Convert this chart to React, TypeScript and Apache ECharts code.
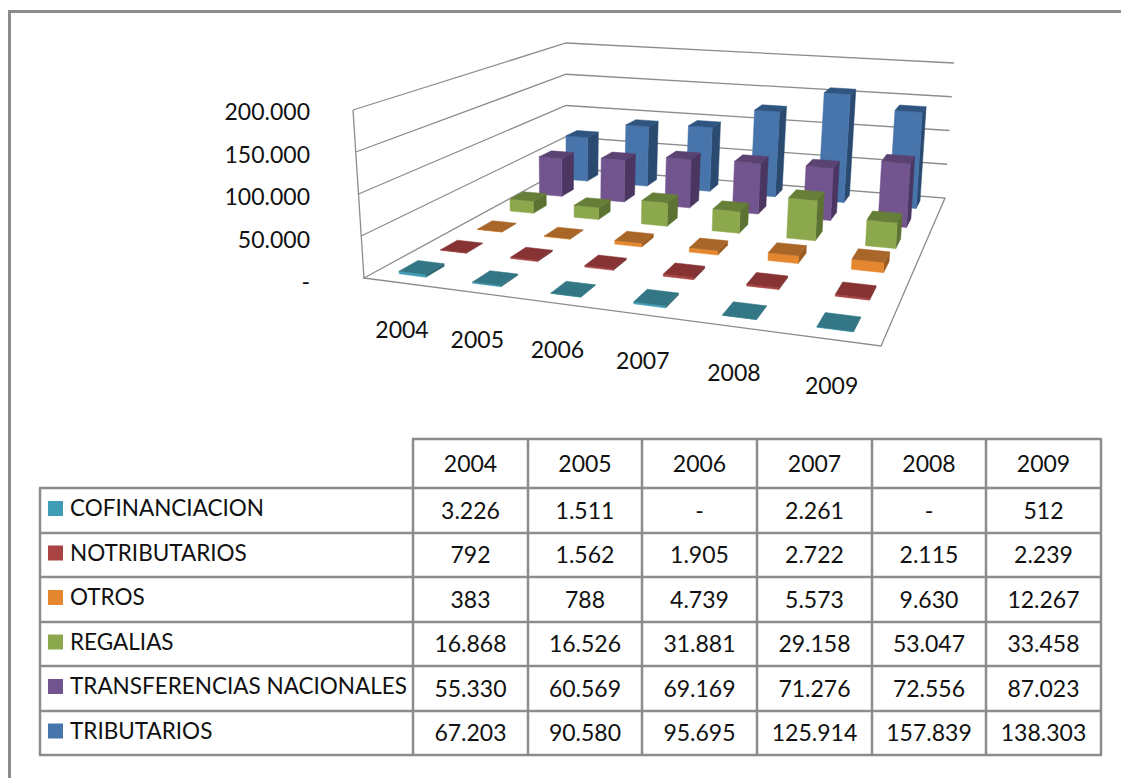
import React, { useEffect, useRef } from "react";
import * as echarts from "echarts";

const years = ["2004", "2005", "2006", "2007", "2008", "2009"];
const seriesNames = ["COFINANCIACION", "NOTRIBUTARIOS", "OTROS", "REGALIAS", "TRANSFERENCIAS NACIONALES", "TRIBUTARIOS"];
const cofinanciacion = [3226, 1511, 0, 2261, 0, 512];
const notributarios = [792, 1562, 1905, 2722, 2115, 2239];
const otros = [383, 788, 4739, 5573, 9630, 12267];
const regalias = [16868, 16526, 31881, 29158, 53047, 33458];
const transferencias = [55330, 60569, 69169, 71276, 72556, 87023];
const tributarios = [67203, 90580, 95695, 125914, 157839, 138303];
const allValues = [cofinanciacion, notributarios, otros, regalias, transferencias, tributarios];
const valueTicks = [0, 50000, 100000, 150000, 200000];

const frontColors = ["#3F9DB5", "#A94442", "#E5872F", "#8CA84C", "#72558F", "#4674AB"];
const topColors = ["#337685", "#873233", "#A86628", "#667F38", "#5A4272", "#2F5480"];
const sideColors = ["#2C6473", "#6E2A2A", "#9A5A20", "#5C7232", "#4A3660", "#2A4A70"];

const fmt = (v: number) => (v === 0 ? "-" : String(v).replace(/\B(?=(\d{3})+$)/g, "."));

type P = [number, number];
// Homography from the unit square: (0,0)->a, (1,0)->b, (1,1)->c, (0,1)->d
function quad(a: P, b: P, c: P, d: P) {
  const dx1 = b[0] - c[0], dx2 = d[0] - c[0], sx = a[0] - b[0] + c[0] - d[0];
  const dy1 = b[1] - c[1], dy2 = d[1] - c[1], sy = a[1] - b[1] + c[1] - d[1];
  const den = dx1 * dy2 - dx2 * dy1;
  const g = (sx * dy2 - dx2 * sy) / den;
  const h = (dx1 * sy - sx * dy1) / den;
  const A = b[0] - a[0] + g * b[0], B = d[0] - a[0] + h * d[0];
  const D = b[1] - a[1] + g * b[1], E = d[1] - a[1] + h * d[1];
  return (u: number, v: number): P => {
    const w = g * u + h * v + 1;
    return [(A * u + B * v + a[0]) / w, (D * u + E * v + a[1]) / w];
  };
}
const floorMap = quad([364, 278], [881, 346], [945, 198], [566, 168]);
const topMap = quad([353, 110], [890, 152], [954, 63], [566, 43]);
const project = (u: number, v: number, h: number): P => {
  const f = floorMap(u, v), t = topMap(u, v);
  return [f[0] + (t[0] - f[0]) * h, f[1] + (t[1] - f[1]) * h];
};

const BAR_U = 0.37, BAR_V = 0.44;
const GREY = "#8C8C8C";
const FONT = "Lato";
const FONT_SIZE = 23;
const NAME_SIZE = 22.5;
const TEXT = "#111";

const rowY = [439, 488, 533, 577, 622, 666, 711, 755];
const colX = [413, 528, 642, 757, 872, 986, 1101];
const tableLeft = 40;

function tableGraphics() {
  const line = (x1: number, y1: number, x2: number, y2: number, w = 2.5, c = GREY) => ({
    type: "line", shape: { x1, y1, x2, y2 }, style: { stroke: c, lineWidth: w }, silent: true,
  });
  const els: any[] = [];
  // chart frame
  els.push(line(9.5, 10, 9.5, 778, 3, GREY));
  els.push(line(8, 11.5, 1121, 11.5, 3, GREY));
  rowY.forEach((y, i) => els.push(line((i === 0 ? colX[0] : tableLeft) - 1, y, colX[6] + 1, y)));
  colX.forEach((x) => els.push(line(x, rowY[0], x, rowY[7])));
  els.push(line(tableLeft, rowY[1], tableLeft, rowY[7]));
  years.forEach((yr, c) =>
    els.push({
      type: "text",
      style: { text: yr, x: (colX[c] + colX[c + 1]) / 2, y: (rowY[0] + rowY[1]) / 2 - 1, align: "center", verticalAlign: "middle", font: `${FONT_SIZE}px ${FONT}`, fill: TEXT },
    })
  );
  seriesNames.forEach((name, r) => {
    const yc = (rowY[r + 1] + rowY[r + 2]) / 2;
    els.push({ type: "rect", shape: { x: 48, y: yc - 7.5 - 2, width: 15, height: 15 }, style: { fill: frontColors[r] } });
    els.push({
      type: "text",
      style: { text: name, x: 70, y: yc - 3, align: "left", verticalAlign: "middle", font: `${NAME_SIZE}px ${FONT}`, fill: TEXT },
    });
    allValues[r].forEach((v, c) =>
      els.push({
        type: "text",
        style: { text: fmt(v), x: (colX[c] + colX[c + 1]) / 2, y: yc - 1, align: "center", verticalAlign: "middle", font: `${FONT_SIZE}px ${FONT}`, fill: TEXT },
      })
    );
  });
  return els;
}

export default function App() {
  const ref = useRef<HTMLDivElement>(null);
  useEffect(() => {
    const chart = echarts.init(ref.current!, undefined, { renderer: "svg" });
    const GRID = { left: 316, top: 111, width: 300, height: 170 };
    const bars: any[] = [];
    allValues.forEach((vals, s) => vals.forEach((v, y) => bars.push([y, v, s])));
    // back rows first so nearer bars overlap them
    bars.sort((a, b) => b[2] - a[2] || a[0] - b[0]);

    const poly = (pts: P[], fill: string) => ({ type: "polygon", shape: { points: pts }, style: { fill, stroke: fill, lineWidth: 0.5 } });

    chart.setOption({
      animation: false,
      backgroundColor: "#fff",
      grid: { ...GRID, containLabel: false },
      xAxis: { type: "category", data: years, show: false, boundaryGap: true },
      yAxis: {
        type: "value",
        min: 0,
        max: 200000,
        interval: 50000,
        axisLine: { show: false },
        axisTick: { show: false },
        splitLine: { show: false },
        axisLabel: { fontFamily: FONT, fontSize: FONT_SIZE, color: TEXT, margin: 6, formatter: (v: number) => fmt(v) },
      },
      graphic: tableGraphics(),
      series: [
        {
          // walls, gridlines, floor and category labels
          type: "custom",
          silent: true,
          z: 1,
          data: [[0]],
          renderItem: () => {
            const children: any[] = [];
            children.push({
              type: "polygon",
              shape: { points: [project(0, 0, 0), project(1, 0, 0), project(1, 1, 0), project(0, 1, 0)] },
              style: { fill: "#fff", stroke: "#8C8C8C", lineWidth: 1.3 },
            });
            valueTicks.forEach((t) => {
              const h = t / 200000;
              if (t > 0) {
                children.push({ type: "polyline", shape: { points: [project(0, 0, h), project(0, 1, h), project(1, 1, h)] }, style: { fill: "none", stroke: "#8C8C8C", lineWidth: 1.3 } });
              }
            });
            children.push({ type: "line", shape: { x1: project(0, 0, 0)[0], y1: project(0, 0, 0)[1], x2: project(0, 0, 1)[0], y2: project(0, 0, 1)[1] }, style: { stroke: "#8C8C8C", lineWidth: 1.3 } });
            years.forEach((yr, i) => {
              const p = project((i + 0.5) / 6, 0, 0);
              children.push({ type: "text", style: { text: yr, x: p[0] + 2, y: p[1] + 46, align: "center", verticalAlign: "middle", font: `${FONT_SIZE}px ${FONT}`, fill: TEXT } });
            });
            return { type: "group", children };
          },
        },
        {
          type: "custom",
          silent: true,
          z: 2,
          encode: { x: 0, y: 1 },
          data: bars,
          renderItem: (_: any, api: any) => {
            const catIdx = api.value(0), val = api.value(1), s = api.value(2);
            const [px] = api.coord([catIdx, 0]);
            const y0 = api.coord([catIdx, 0])[1];
            const yv = api.coord([catIdx, val])[1];
            const h = (y0 - yv) / GRID.height;
            const uc = (px - GRID.left) / GRID.width;
            const vc = (s + 0.5) / 6;
            const du = BAR_U / 12, dv = BAR_V / 12;
            const u0 = uc - du, u1 = uc + du, v0 = vc - dv, v1 = vc + dv;
            const A = project(u0, v0, 0), B = project(u1, v0, 0), C = project(u1, v1, 0);
            const At = project(u0, v0, h), Bt = project(u1, v0, h), Ct = project(u1, v1, h), Dt = project(u0, v1, h);
            return {
              type: "group",
              children: [
                poly([B, C, Ct, Bt], sideColors[s]),
                poly([A, B, Bt, At], frontColors[s]),
                poly([At, Bt, Ct, Dt], topColors[s]),
              ],
            };
          },
        },
      ],
    });
    return () => chart.dispose();
  }, []);
  return <div ref={ref} style={{ position: "fixed", left: 0, top: 0, width: 1121, height: 778 }} />;
}
